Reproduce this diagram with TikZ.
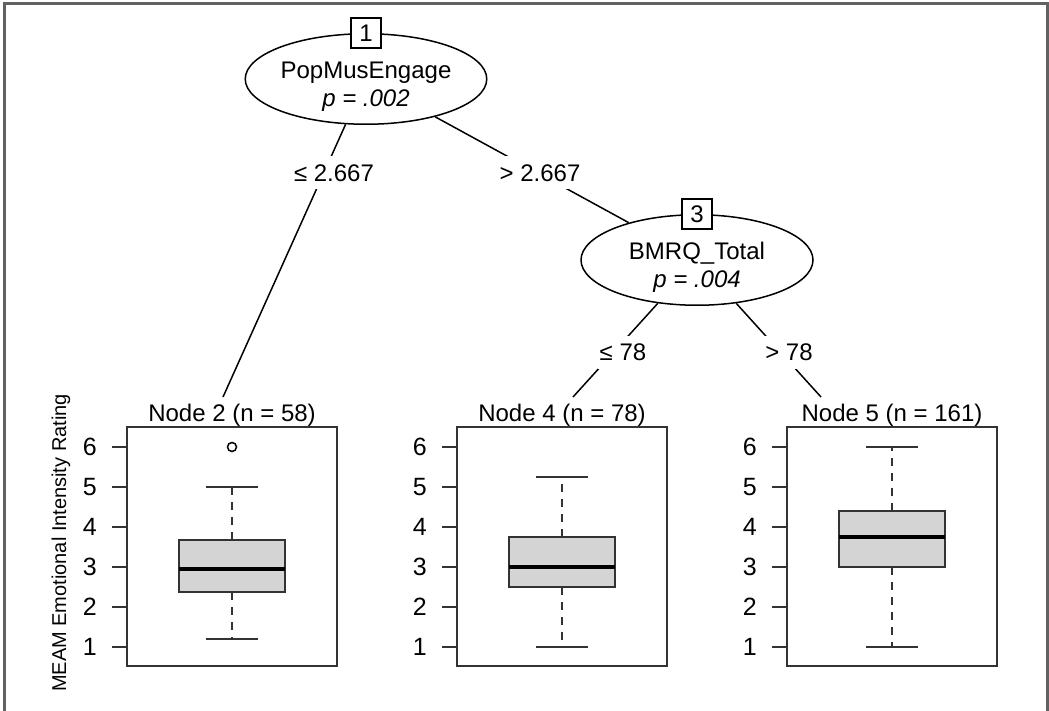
\documentclass[tikz,border=0pt]{standalone}
\usepackage{fontspec}
\setmainfont{Liberation Sans}
\usetikzlibrary{shapes.geometric}

\begin{document}
\begin{tikzpicture}[x=1pt,y=-1pt,
	split/.style={ellipse,draw,line width=1.5pt,fill=white,minimum width=232pt,
		minimum height=86pt,inner sep=0pt,align=center,font=\fontsize{24}{28}\selectfont},
	idbox/.style={draw,line width=1.5pt,fill=white,minimum size=30pt,inner sep=0pt,
		font=\fontsize{24}{28}\selectfont},
	edgelab/.style={fill=white,inner xsep=2pt,inner ysep=8pt,text height=17pt,
		text depth=0pt,font=\fontsize{24}{28}\selectfont},
	branch/.style={line width=1.5pt},
	panel/.style={line width=2pt,draw=black!80},
	ticklab/.style={anchor=east,inner sep=2pt,font=\fontsize{25}{28}\selectfont}]
	\useasboundingbox (0,0) rectangle (1049,711);
	
	% Rahmen (unten offen)
	\draw[line width=2.5pt,black!62] (4.5,711) -- (4.5,3.5) -- (1047.5,3.5) -- (1047.5,711);
	
	% innere Knoten
	\node[split] (n1) at (366,79) {\rule{0pt}{31pt}PopMusEngage\\\textit{p = .002}};
	\node[idbox] (id1) at (n1.north) {1};
	\node[split] (n3) at (697,260) {\rule{0pt}{31pt}BMRQ\_Total\\\textit{p = .004}};
	\node[idbox] (id3) at (n3.north) {3};
	
	% Endknoten mit Boxplots: x-Mitte / Nr. / n / min / q1 / median / q3 / max
	\foreach \cx/\nr/\num/\lo/\qa/\med/\qb/\hi in
		{232/2/58/1.2/2.375/2.95/3.675/5,
		 562/4/78/1/2.5/3/3.75/5.25,
		 892/5/161/1/3/3.75/4.4/6} {
		\node[anchor=base,font=\fontsize{24}{28}\selectfont] (t\nr) at (\cx,421)
			{Node \nr\ (n = \num)};
		\draw[panel] (\cx-105,427) rectangle (\cx+105,666);
		\foreach \v in {1,...,6} {
			\draw[panel] (\cx-120,687-40*\v) -- (\cx-105,687-40*\v);
			\node[ticklab] (tick\nr-\v) at (\cx-133,687-40*\v) {\v};
		}
		% Whisker
		\draw[line width=2pt,black!80,dash pattern=on 8pt off 7pt]
			(\cx,687-40*\qb) -- (\cx,687-40*\hi);
		\draw[line width=2pt,black!80,dash pattern=on 8pt off 7pt]
			(\cx,687-40*\qa) -- (\cx,687-40*\lo);
		\draw[line width=2pt,black!80] (\cx-26,687-40*\hi) -- (\cx+26,687-40*\hi);
		\draw[line width=2pt,black!80] (\cx-26,687-40*\lo) -- (\cx+26,687-40*\lo);
		% Box und Median
		\draw[line width=2pt,draw=black!80,fill=black!17]
			(\cx-53,687-40*\qa) rectangle (\cx+53,687-40*\qb);
		\draw[line width=4pt] (\cx-53,687-40*\med) -- (\cx+53,687-40*\med);
	}
	% Ausreisser in Node 2
	\draw[line width=1.5pt] (232,447) circle (4.5pt);
	
	% y-Achsenbeschriftung
	\node[rotate=90,font=\fontsize{20}{24}\selectfont] (ylab) at (61,543)
		{MEAM Emotional Intensity Rating};
	
	% Kanten
	\coordinate (e2) at (223,397);
	\coordinate (e4) at (573,397);
	\coordinate (e5) at (821,397);
	\draw[branch] (n1) -- (e2);
	\draw[branch] (n1) -- (n3);
	\draw[branch] (n3) -- (e4);
	\draw[branch] (n3) -- (e5);
	\node[edgelab] (l2) at (334,173) {≤ 2.667};
	\node[edgelab] (l3) at (540,173) {> 2.667};
	\node[edgelab] (l4) at (623,352) {≤ 78};
	\node[edgelab] (l5) at (789,352) {> 78};
	
\end{tikzpicture}
\end{document}
